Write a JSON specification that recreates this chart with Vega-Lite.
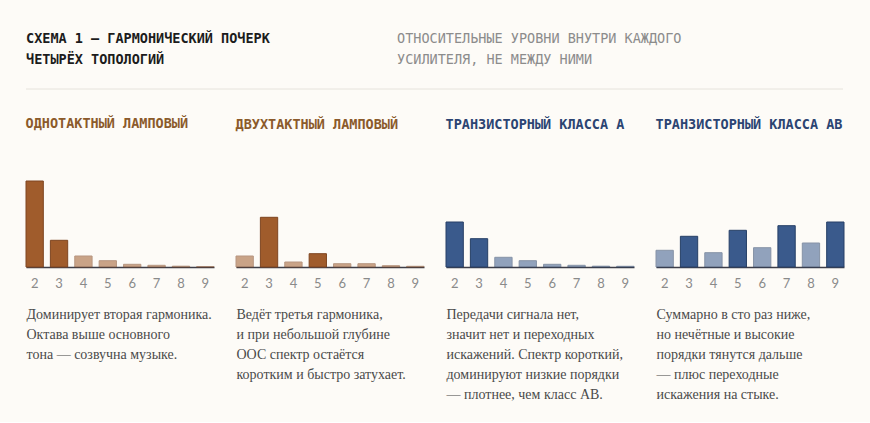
{
  "$schema": "https://vega.github.io/schema/vega-lite/v6.json",
  "description": "Схема 1 — гармонический почерк четырёх топологий",
  "background": "#fdfbf7",
  "padding": {"left": 25, "top": 31, "right": 30, "bottom": 21},
  "datasets": {
    "harmonics": [
      {"amp": "se", "family": "tube", "h": 2, "level": 86, "emphasis": "main"},
      {"amp": "se", "family": "tube", "h": 3, "level": 26.7, "emphasis": "main"},
      {"amp": "se", "family": "tube", "h": 4, "level": 11, "emphasis": "minor"},
      {"amp": "se", "family": "tube", "h": 5, "level": 6.3, "emphasis": "minor"},
      {"amp": "se", "family": "tube", "h": 6, "level": 2.7, "emphasis": "minor"},
      {"amp": "se", "family": "tube", "h": 7, "level": 1.7, "emphasis": "minor"},
      {"amp": "se", "family": "tube", "h": 8, "level": 0.8, "emphasis": "minor"},
      {"amp": "se", "family": "tube", "h": 9, "level": 0.4, "emphasis": "minor"},
      {"amp": "pp", "family": "tube", "h": 2, "level": 11, "emphasis": "minor"},
      {"amp": "pp", "family": "tube", "h": 3, "level": 49.7, "emphasis": "main"},
      {"amp": "pp", "family": "tube", "h": 4, "level": 5, "emphasis": "minor"},
      {"amp": "pp", "family": "tube", "h": 5, "level": 13.3, "emphasis": "main"},
      {"amp": "pp", "family": "tube", "h": 6, "level": 3.3, "emphasis": "minor"},
      {"amp": "pp", "family": "tube", "h": 7, "level": 3.3, "emphasis": "minor"},
      {"amp": "pp", "family": "tube", "h": 8, "level": 1.3, "emphasis": "minor"},
      {"amp": "pp", "family": "tube", "h": 9, "level": 0.7, "emphasis": "minor"},
      {"amp": "a", "family": "solid", "h": 2, "level": 45, "emphasis": "main"},
      {"amp": "a", "family": "solid", "h": 3, "level": 28.3, "emphasis": "main"},
      {"amp": "a", "family": "solid", "h": 4, "level": 9.7, "emphasis": "minor"},
      {"amp": "a", "family": "solid", "h": 5, "level": 6.3, "emphasis": "minor"},
      {"amp": "a", "family": "solid", "h": 6, "level": 2.7, "emphasis": "minor"},
      {"amp": "a", "family": "solid", "h": 7, "level": 1.7, "emphasis": "minor"},
      {"amp": "a", "family": "solid", "h": 8, "level": 0.8, "emphasis": "minor"},
      {"amp": "a", "family": "solid", "h": 9, "level": 0.7, "emphasis": "minor"},
      {"amp": "ab", "family": "solid", "h": 2, "level": 16.7, "emphasis": "minor"},
      {"amp": "ab", "family": "solid", "h": 3, "level": 30.7, "emphasis": "main"},
      {"amp": "ab", "family": "solid", "h": 4, "level": 14.3, "emphasis": "minor"},
      {"amp": "ab", "family": "solid", "h": 5, "level": 36.7, "emphasis": "main"},
      {"amp": "ab", "family": "solid", "h": 6, "level": 19.3, "emphasis": "minor"},
      {"amp": "ab", "family": "solid", "h": 7, "level": 41.3, "emphasis": "main"},
      {"amp": "ab", "family": "solid", "h": 8, "level": 24, "emphasis": "minor"},
      {"amp": "ab", "family": "solid", "h": 9, "level": 45, "emphasis": "main"}
    ],
    "base": [{"b": 0}]
  },
  "spacing": 27,
  "vconcat": [
    {
      "spacing": 0,
      "vconcat": [
        {
          "spacing": 0,
          "hconcat": [
            {
              "width": 371,
              "height": 1,
              "title": {
                "text": ["СХЕМА 1 — ГАРМОНИЧЕСКИЙ ПОЧЕРК", "ЧЕТЫРЁХ ТОПОЛОГИЙ"],
                "anchor": "start",
                "font": "DejaVu Sans Mono",
                "fontSize": 13.5,
                "fontWeight": "bold",
                "color": "#1c1c1c",
                "lineHeight": 21,
                "offset": 10
              },
              "data": {"values": []},
              "mark": "text",
              "encoding": {}
            },
            {
              "width": 446,
              "height": 1,
              "title": {
                "text": ["ОТНОСИТЕЛЬНЫЕ УРОВНИ ВНУТРИ КАЖДОГО", "УСИЛИТЕЛЯ, НЕ МЕЖДУ НИМИ"],
                "anchor": "start",
                "font": "DejaVu Sans Mono",
                "fontSize": 13.5,
                "fontWeight": "normal",
                "color": "#8c8c8c",
                "lineHeight": 21,
                "offset": 10
              },
              "data": {"values": []},
              "mark": "text",
              "encoding": {}
            }
          ]
        },
        {
          "width": 817,
          "height": 12,
          "data": {"name": "base"},
          "mark": {"type": "rule", "color": "#e6e3dc", "strokeWidth": 1},
          "encoding": {
            "y": {"datum": 0, "type": "quantitative", "scale": {"domain": [0, 1]}, "axis": null}
          }
        }
      ]
    },
    {
      "spacing": 20,
      "hconcat": [
        {
          "width": 188,
          "height": 86,
          "title": {"text": "ОДНОТАКТНЫЙ ЛАМПОВЫЙ", "color": "#8b5a2b"},
          "data": {"name": "harmonics"},
          "transform": [{"filter": "datum.amp === 'se'"}],
          "mark": {"type": "bar", "strokeWidth": 1},
          "encoding": {
            "x": {
              "field": "h",
              "type": "ordinal",
              "scale": {"paddingInner": 0.29, "paddingOuter": 0},
              "axis": {
                "title": ["Доминирует вторая гармоника.", "Октава выше основного", "тона — созвучна музыке."]
              }
            },
            "y": {"field": "level", "type": "quantitative", "scale": {"domain": [0, 86]}, "axis": null},
            "color": {"field": "family", "type": "nominal", "scale": {"domain": ["tube", "solid"], "range": ["#a05c2c", "#3a5a8c"]}, "legend": null},
            "stroke": {"field": "family", "type": "nominal", "scale": {"domain": ["tube", "solid"], "range": ["#7e4520", "#263f66"]}, "legend": null},
            "opacity": {"field": "emphasis", "type": "nominal", "scale": {"domain": ["main", "minor"], "range": [1, 0.55]}, "legend": null}
          }
        },
        {
          "width": 188,
          "height": 86,
          "title": {"text": "ДВУХТАКТНЫЙ ЛАМПОВЫЙ", "color": "#8b5a2b"},
          "data": {"name": "harmonics"},
          "transform": [{"filter": "datum.amp === 'pp'"}],
          "mark": {"type": "bar", "strokeWidth": 1},
          "encoding": {
            "x": {
              "field": "h",
              "type": "ordinal",
              "scale": {"paddingInner": 0.29, "paddingOuter": 0},
              "axis": {
                "title": ["Ведёт третья гармоника,", "и при небольшой глубине", "ООС спектр остаётся", "коротким и быстро затухает."]
              }
            },
            "y": {"field": "level", "type": "quantitative", "scale": {"domain": [0, 86]}, "axis": null},
            "color": {"field": "family", "type": "nominal", "scale": {"domain": ["tube", "solid"], "range": ["#a05c2c", "#3a5a8c"]}, "legend": null},
            "stroke": {"field": "family", "type": "nominal", "scale": {"domain": ["tube", "solid"], "range": ["#7e4520", "#263f66"]}, "legend": null},
            "opacity": {"field": "emphasis", "type": "nominal", "scale": {"domain": ["main", "minor"], "range": [1, 0.55]}, "legend": null}
          }
        },
        {
          "width": 188,
          "height": 86,
          "title": {"text": "ТРАНЗИСТОРНЫЙ КЛАССА А", "color": "#2b4472"},
          "data": {"name": "harmonics"},
          "transform": [{"filter": "datum.amp === 'a'"}],
          "mark": {"type": "bar", "strokeWidth": 1},
          "encoding": {
            "x": {
              "field": "h",
              "type": "ordinal",
              "scale": {"paddingInner": 0.29, "paddingOuter": 0},
              "axis": {
                "title": ["Передачи сигнала нет,", "значит нет и переходных", "искажений. Спектр короткий,", "доминируют низкие порядки", "— плотнее, чем класс АВ."]
              }
            },
            "y": {"field": "level", "type": "quantitative", "scale": {"domain": [0, 86]}, "axis": null},
            "color": {"field": "family", "type": "nominal", "scale": {"domain": ["tube", "solid"], "range": ["#a05c2c", "#3a5a8c"]}, "legend": null},
            "stroke": {"field": "family", "type": "nominal", "scale": {"domain": ["tube", "solid"], "range": ["#7e4520", "#263f66"]}, "legend": null},
            "opacity": {"field": "emphasis", "type": "nominal", "scale": {"domain": ["main", "minor"], "range": [1, 0.55]}, "legend": null}
          }
        },
        {
          "width": 188,
          "height": 86,
          "title": {"text": "ТРАНЗИСТОРНЫЙ КЛАССА АВ", "color": "#2b4472"},
          "data": {"name": "harmonics"},
          "transform": [{"filter": "datum.amp === 'ab'"}],
          "mark": {"type": "bar", "strokeWidth": 1},
          "encoding": {
            "x": {
              "field": "h",
              "type": "ordinal",
              "scale": {"paddingInner": 0.29, "paddingOuter": 0},
              "axis": {
                "title": ["Суммарно в сто раз ниже,", "но нечётные и высокие", "порядки тянутся дальше", "— плюс переходные", "искажения на стыке."]
              }
            },
            "y": {"field": "level", "type": "quantitative", "scale": {"domain": [0, 86]}, "axis": null},
            "color": {"field": "family", "type": "nominal", "scale": {"domain": ["tube", "solid"], "range": ["#a05c2c", "#3a5a8c"]}, "legend": null},
            "stroke": {"field": "family", "type": "nominal", "scale": {"domain": ["tube", "solid"], "range": ["#7e4520", "#263f66"]}, "legend": null},
            "opacity": {"field": "emphasis", "type": "nominal", "scale": {"domain": ["main", "minor"], "range": [1, 0.55]}, "legend": null}
          }
        }
      ]
    }
  ],
  "config": {
    "view": {"stroke": null},
    "title": {
      "anchor": "start",
      "font": "DejaVu Sans Mono",
      "fontSize": 13.5,
      "fontWeight": "bold",
      "offset": 50
    },
    "axisX": {
      "orient": "bottom",
      "grid": false,
      "ticks": false,
      "domainColor": "#3e3e48",
      "domainWidth": 1.5,
      "labelAngle": 0,
      "labelFont": "Lato",
      "labelFontSize": 13,
      "labelColor": "#8a8a8a",
      "labelPadding": 10,
      "titleAnchor": "start",
      "titleAlign": "left",
      "titleBaseline": "top",
      "titleFont": "Liberation Serif",
      "titleFontSize": 14,
      "titleFontWeight": "normal",
      "titleColor": "#4a4a4a",
      "titleLineHeight": 20,
      "titlePadding": 17
    }
  }
}
